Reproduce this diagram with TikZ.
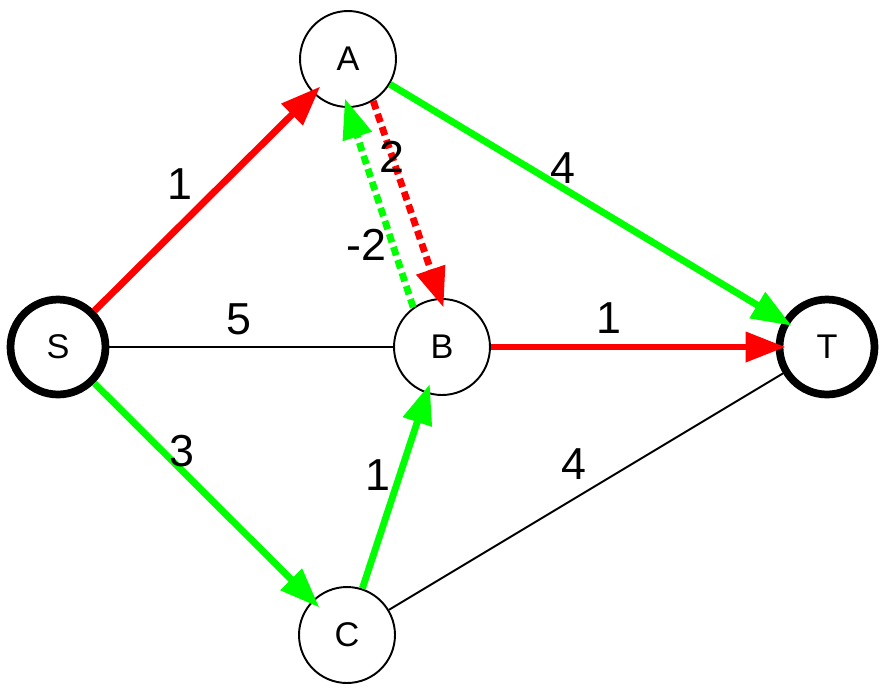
\documentclass[tikz,border=0pt]{standalone}
\usepackage{fontspec}
\setmainfont{Liberation Sans}
\usetikzlibrary{arrows.meta}
\definecolor{flowred}{RGB}{255,0,0}
\definecolor{flowgreen}{RGB}{0,255,0}

\begin{document}
\begin{tikzpicture}[x=0.02cm, y=-0.02cm,
  vertex/.style={circle, draw, line width=1.1pt, minimum size=1.92cm, inner sep=0pt,
    font=\fontsize{19.5}{22}\selectfont},
  terminal/.style={vertex, line width=4.4pt, minimum size=1.9cm},
  wt/.style={font=\fontsize{25.5}{29}\selectfont, inner sep=0pt},
  plain/.style={line width=1.1pt},
  flow/.style={line width=3.9pt, -{Triangle[length=0.8cm, width=0.58cm]}, shorten >=-0.2cm},
  back/.style={dash pattern=on 5pt off 2.8pt}]
  \useasboundingbox (0,0) rectangle (886,694);

  % vertices
  \node[terminal] (S) at (58,347) {S};
  \node[vertex] (A) at (348,59) {A};
  \node[vertex] (B) at (442,347) {B};
  \node[vertex] (C) at (347,635) {C};
  \node[terminal] (T) at (827,347) {T};

  % unused edges
  \draw[plain] (S) -- (B);
  \draw[plain] (C) -- (T);

  % flow edges
  \draw[flow, flowred] (S) -- (A);
  \draw[flow, flowgreen] (S) -- (C);
  \draw[flow, flowgreen] (A) -- (T);
  \draw[flow, flowred] (B) -- (T);
  \draw[flow, flowgreen] (C) -- (B);
  \draw[flow, back, flowred] (A.-59) -- (B.92);
  \draw[flow, back, flowgreen] (B.126) -- (A.-90);

  % weights
  \node[wt] (wSA) at (180,184) {1};
  \node[wt] (wSB) at (239,319) {5};
  \node[wt] (wSC) at (182,451) {3};
  \node[wt] (wAB) at (392,157) {2};
  \node[wt] (wBA) at (366,245) {-2};
  \node[wt] (wAT) at (563,168) {4};
  \node[wt] (wBT) at (609,318) {1};
  \node[wt] (wCB) at (378,475) {1};
  \node[wt] (wCT) at (574,464) {4};
\end{tikzpicture}
\end{document}
